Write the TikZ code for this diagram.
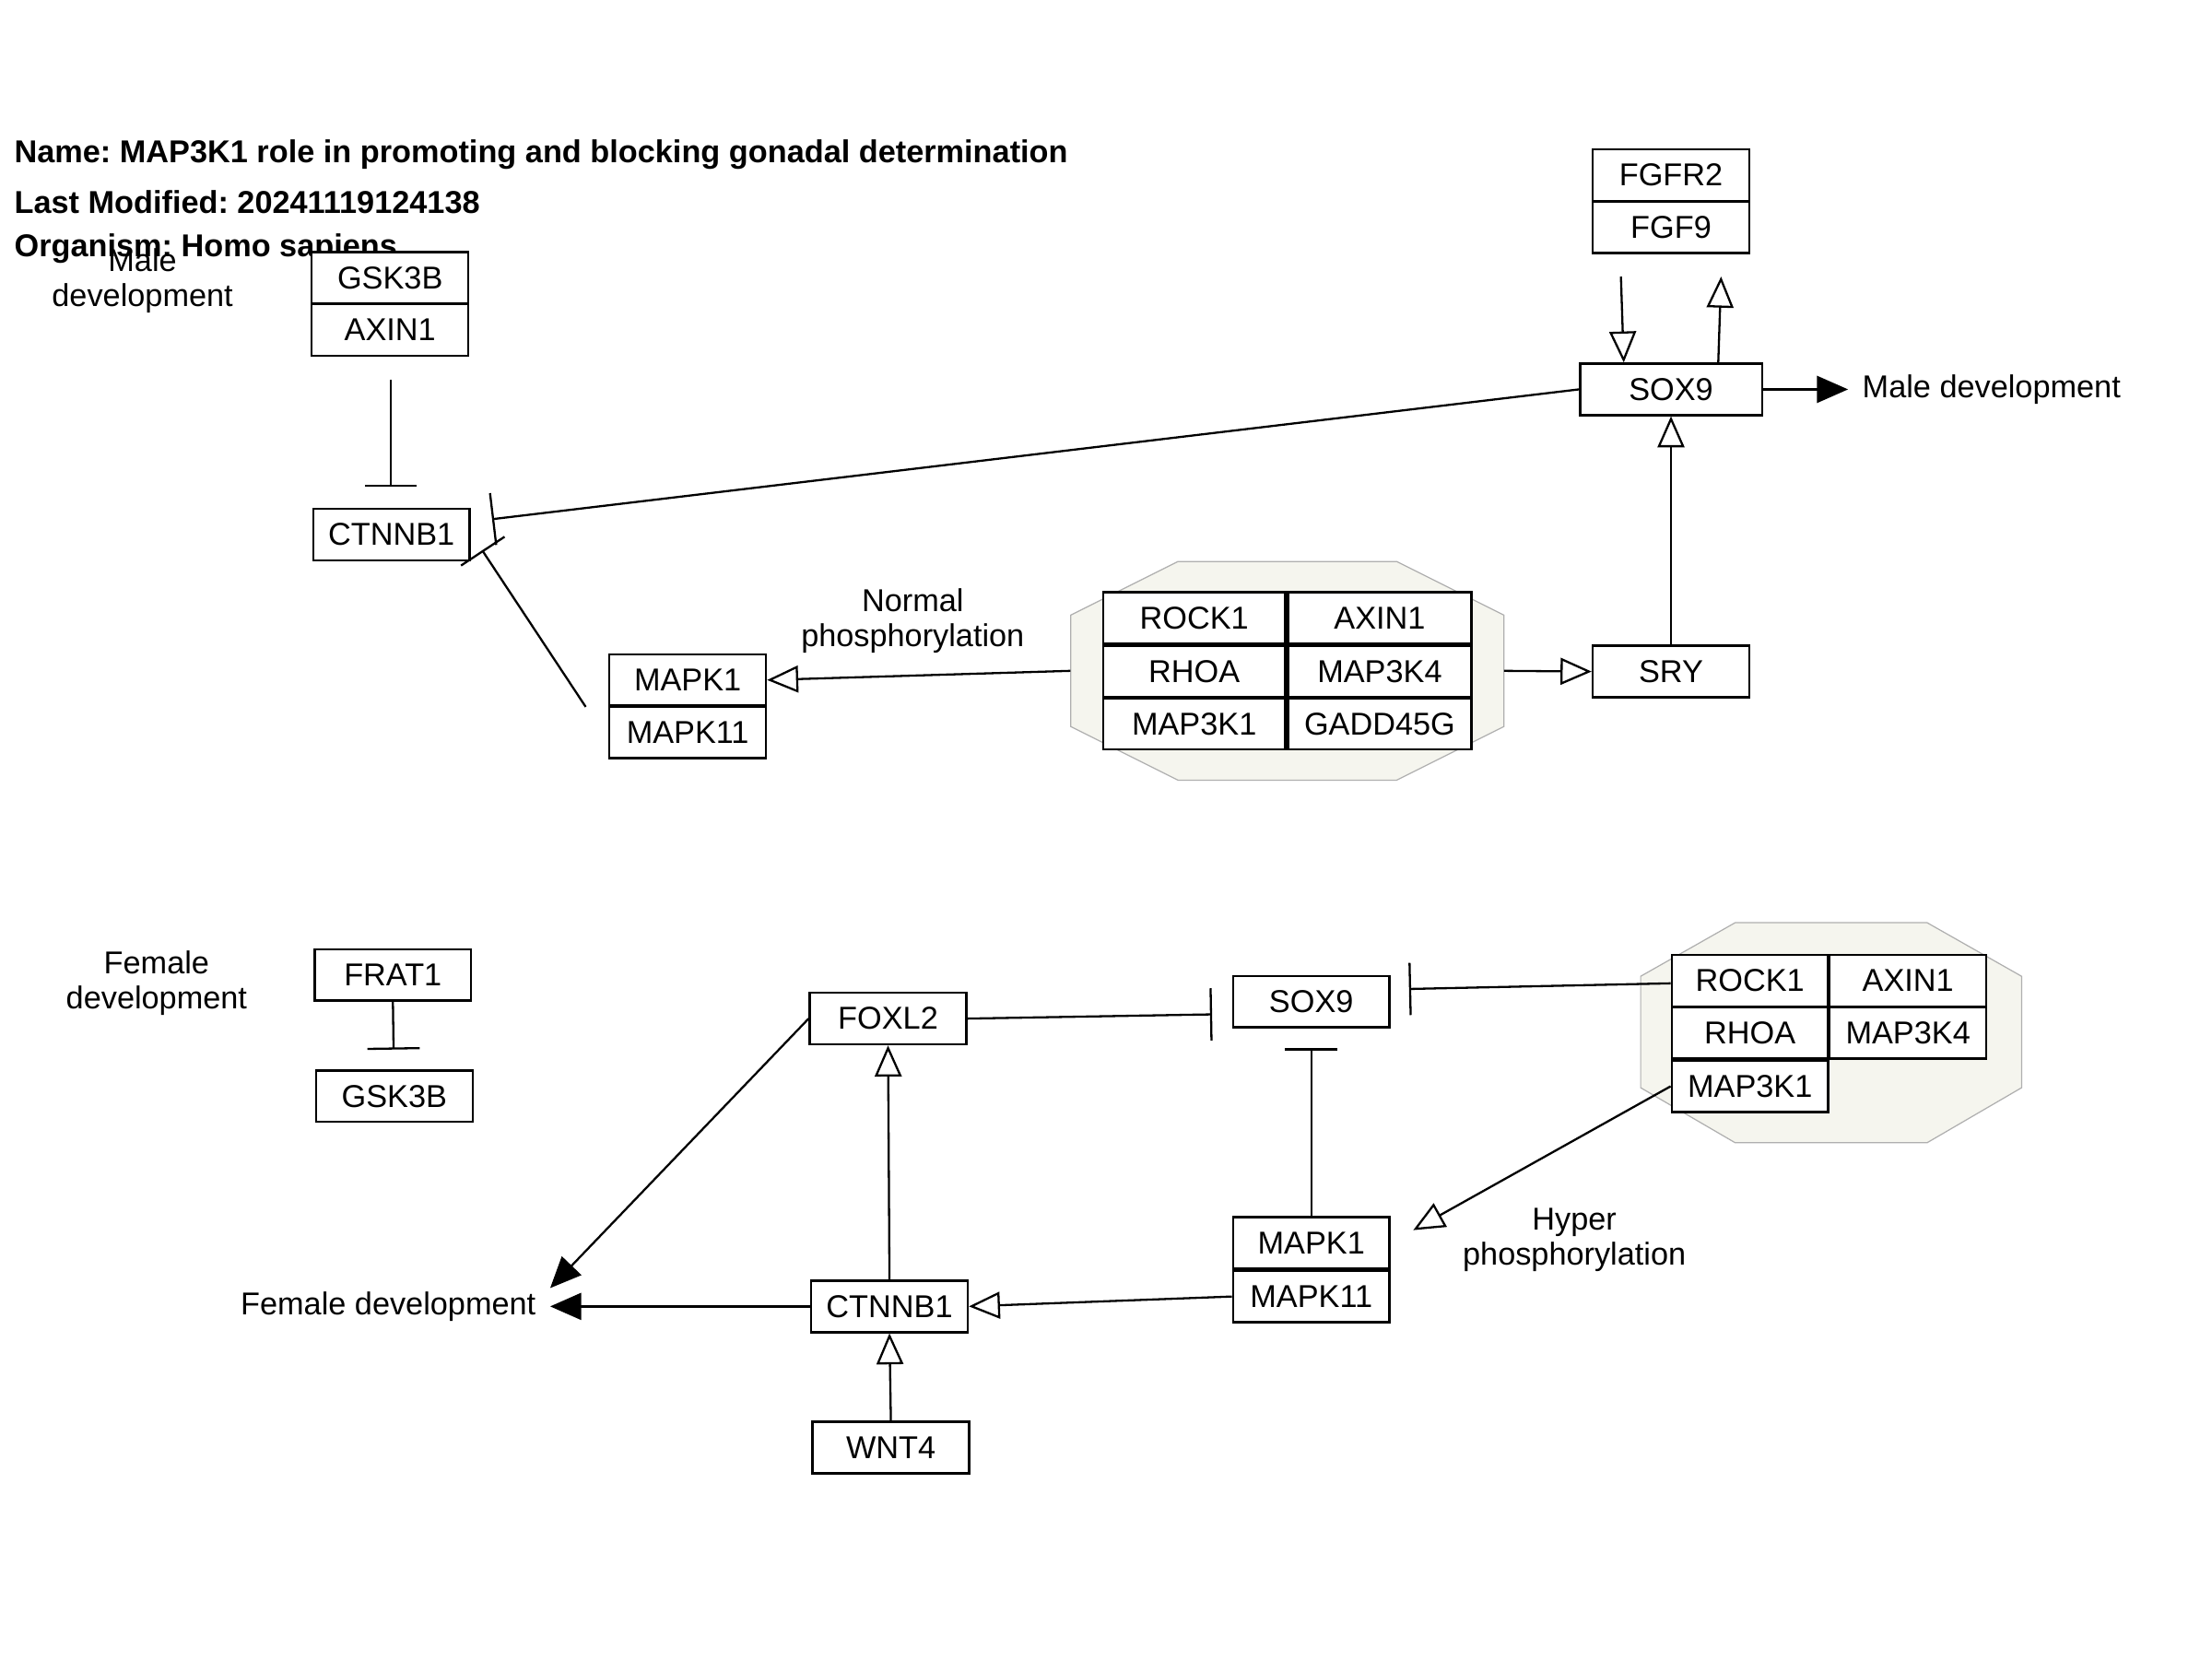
\documentclass[tikz,border=0pt]{standalone}
\usepackage{fontspec}
\setmainfont{Liberation Sans}
\usetikzlibrary{arrows.meta,calc}
\definecolor{cfill}{RGB}{245,245,238}
\definecolor{cdraw}{RGB}{175,175,175}
\newcommand{\myfnt}{\fontsize{22.4}{25}\selectfont}
\frenchspacing
\begin{document}
\frenchspacing
\begin{tikzpicture}[x=1pt,y=-1pt,
  every node/.style={font=\myfnt},
  gene/.style={draw,fill=white,line width=1.6pt,minimum width=111pt,minimum height=36.5pt,inner sep=0pt},
  lab/.style={align=center,inner sep=0pt},
  ttl/.style={anchor=west,inner sep=0pt,font=\myfnt\bfseries},
  conn/.style={line width=1.5pt},
  opn/.style={conn,-{Triangle[open,length=22pt,width=19pt,line width=1.5pt]}},
  fil/.style={conn,-{Triangle[length=22pt,width=19pt]}},
  inh/.style={conn,-{Bar[width=37pt,line width=1.5pt]}},
  cplx/.style={fill=cfill,draw=cdraw,line width=0.8pt}]
\useasboundingbox (0,0) rectangle (1568,1176);

% complexes
\draw[cplx] (835,398) -- (990,398) -- (1066,436) -- (1066,515) -- (990,553) -- (835,553) -- (759,515) -- (759,436) -- cycle;
\node[inner sep=0pt,minimum width=307pt,minimum height=155pt] (cx1) at (912.5,475.5) {};
\draw[cplx] (1230,654) -- (1366,654) -- (1433,692) -- (1433,771) -- (1366,810) -- (1230,810) -- (1163,771) -- (1163,692) -- cycle;
\node[inner sep=0pt,minimum width=270pt,minimum height=156pt] (cx2) at (1298,732) {};

% title
\node[ttl] (t1) at (10,109.5) {Name: MAP3K1 role in promoting and blocking gonadal determination};
\node[ttl] (t2) at (10,143) {Last Modified: 20241119124138};
\node[ttl] (t3) at (10,176.5) {Organism: Homo sapiens};

% top part
\node[lab] (maleTL) at (101,199) {Male\\development};
\node[gene] (gskA) at (276.5,197) {GSK3B};
\node[gene] (axinA) at (276.5,234) {AXIN1};
\node[gene] (ctnA) at (277.5,379) {CTNNB1};
\node[gene] (fgfr2) at (1184.5,124) {FGFR2};
\node[gene] (fgf9) at (1184.5,161) {FGF9};
\node[gene,minimum width=129pt] (sox9A) at (1184.5,276) {SOX9};
\node[gene] (sry) at (1184.5,476) {SRY};
\node[gene] (mapk1A) at (487.5,482) {MAPK1};
\node[gene] (mapk11A) at (487.5,519) {MAPK11};
\node[gene,minimum width=129pt] (rock1A) at (846.5,438) {ROCK1};
\node[gene,minimum width=130pt] (axin1B) at (978,438) {AXIN1};
\node[gene,minimum width=129pt] (rhoaA) at (846.5,476) {RHOA};
\node[gene,minimum width=130pt] (map3k4A) at (978,476) {MAP3K4};
\node[gene,minimum width=129pt] (map3k1A) at (846.5,513) {MAP3K1};
\node[gene,minimum width=130pt] (gadd) at (978,513) {GADD45G};
\node[lab,anchor=west] (maledev) at (1320,276) {Male development};
\node[lab] (normal) at (647,440) {Normal\\phosphorylation};

% bottom part
\node[lab] (femaleTL) at (111,697) {Female\\development};
\node[gene] (frat1) at (278.5,691) {FRAT1};
\node[gene] (gsk3bB) at (279.5,777) {GSK3B};
\node[gene] (foxl2) at (629.5,722) {FOXL2};
\node[gene] (sox9B) at (929.5,710) {SOX9};
\node[gene] (mapk1B) at (929.5,881) {MAPK1};
\node[gene] (mapk11B) at (929.5,919) {MAPK11};
\node[gene] (ctnB) at (630.5,926) {CTNNB1};
\node[gene] (wnt4) at (631.5,1026) {WNT4};
\node[gene] (rock1B) at (1240.5,695) {ROCK1};
\node[gene] (axinC) at (1352.5,695) {AXIN1};
\node[gene] (rhoaB) at (1240.5,732) {RHOA};
\node[gene] (map3k4B) at (1352.5,732) {MAP3K4};
\node[gene] (map3k1B) at (1240.5,770) {MAP3K1};
\node[lab,anchor=east] (femdev) at (380,926) {Female development};
\node[lab] (hyper) at (1116,879) {Hyper\\phosphorylation};

% connectors top
\draw[inh] ($(axinA.south)+(0.5,16)$) -- ($(ctnA.north)+(-0.5,-15)$);
\draw[inh] (sox9A.west) -- ($(ctnA.east)+(15,-11)$);
\draw[inh] ($(mapk1A.south west)+(-16,0)$) -- ($(ctnA.south east)+(8,-8)$);
\draw[opn] ($(fgf9.south)+(-35.5,16)$) -- ($(sox9A.north)+(-33.5,0)$);
\draw[opn] ($(sox9A.north)+(33.5,0)$) -- ($(fgf9.south)+(35.5,16)$);
\draw[fil] (sox9A.east) -- ($(maledev.west)+(-10,0)$);
\draw[opn] (sry.north) -- (sox9A.south);
\draw[opn] (cx1.east) -- (sry.west);
\draw[opn] (cx1.west) -- (mapk1A.east);

% connectors bottom
\draw[inh] (frat1.south) -- ($(gsk3bB.north)+(-0.5,-14)$);
\draw[inh] (foxl2.east) -- ($(sox9B.west)+(-14,9)$);
\draw[inh] ($(rock1B.west)+(0,2)$) -- ($(sox9B.east)+(13,-9)$);
\draw[inh] (mapk1B.north) -- ($(sox9B.south)+(0,14)$);
\draw[opn] (mapk11B.west) -- (ctnB.east);
\draw[opn] (ctnB.north) -- (foxl2.south);
\draw[opn] (wnt4.north) -- (ctnB.south);
\draw[fil] (ctnB.west) -- ($(femdev.east)+(10,0)$);
\draw[fil] (foxl2.west) -- ($(femdev.east)+(10,-13)$);
\draw[opn] (map3k1B.west) -- ($(mapk1B.north east)+(16,10)$);
\end{tikzpicture}
\end{document}
